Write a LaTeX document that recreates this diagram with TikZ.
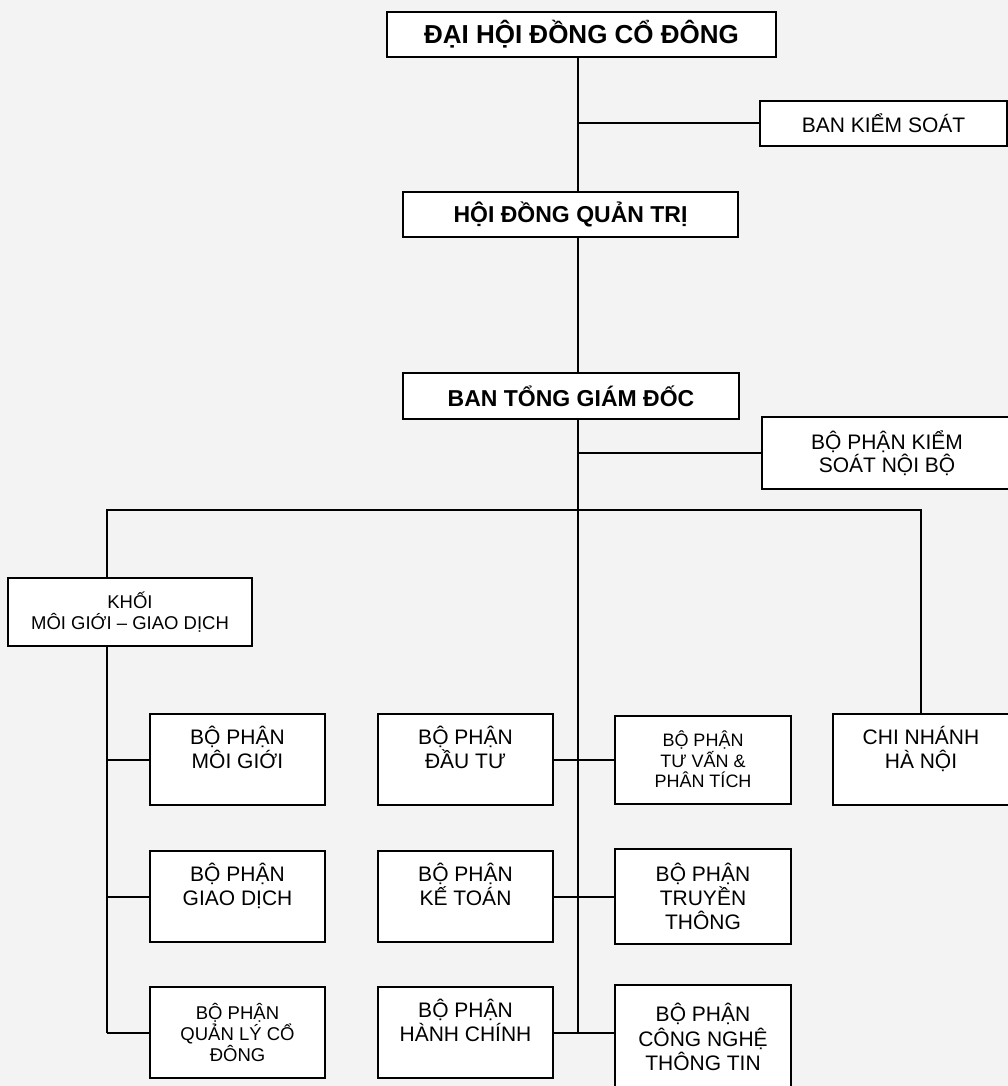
\documentclass[tikz,border=0pt]{standalone}
\usepackage{fontspec}
\setmainfont{Liberation Sans}
\usetikzlibrary{positioning}

\definecolor{bggray}{HTML}{F3F3F3}

\begin{document}
\begin{tikzpicture}[
    x=1pt, y=-1pt,
    node distance=46pt,
    boss/.style={rectangle, draw, fill=white, line width=2pt, inner sep=0pt, outer sep=0pt, align=center, minimum height=45pt, font=\bfseries\fontsize{23}{27}\selectfont},
    side/.style={rectangle, draw, fill=white, line width=2pt, inner sep=0pt, outer sep=0pt, align=center, font=\fontsize{21}{23}\selectfont},
    dept/.style={rectangle, draw, fill=white, line width=2pt, inner sep=0pt, outer sep=0pt, align=center, minimum width=175pt, minimum height=91pt, font=\fontsize{21}{24}\selectfont},
    small/.style={font=\fontsize{18.5}{21}\selectfont},
    link/.style={line width=2pt}
]

% ---------- background ----------
\fill[bggray] (0,0) rectangle (1008,1086);
\useasboundingbox (0,0) rectangle (1008,1086);

% ---------- nodes ----------
% top levels
\node (dhdcd) [boss, minimum width=389pt, font=\bfseries\fontsize{26}{30}\selectfont] at (581.5,34.5) {ĐẠI HỘI ĐỒNG CỔ ĐÔNG};
\node (bks) [side, minimum width=247pt, minimum height=45pt] at (883.5,123.5) {BAN KIỂM SOÁT};
\node (hdqt) [boss, minimum width=335pt] at (570.5,214.5) {HỘI ĐỒNG QUẢN TRỊ};
\node (btgd) [boss, minimum width=336pt, minimum height=46pt] at (571,396) {BAN TỔNG GIÁM ĐỐC};
\node (bpksnb) [side, minimum width=250pt, minimum height=72pt] at (887,453) {BỘ PHẬN KIỂM\\SOÁT NỘI BỘ};

% left column
\node (khoi) [side, small, minimum width=244pt, minimum height=68pt] at (130,612) {KHỐI\\MÔI GIỚI – GIAO DỊCH};
\node (moigioi) [dept] at (237.5,759.5) {BỘ PHẬN\\MÔI GIỚI\\~};
\node (giaodich) [dept, below=of moigioi] {BỘ PHẬN\\GIAO DỊCH\\~};
\node (quanly) [dept, small, below=45pt of giaodich] {BỘ PHẬN\\QUẢN LÝ CỔ\\ĐÔNG};

% middle column
\node (dautu) [dept, right=53pt of moigioi] {BỘ PHẬN\\ĐẦU TƯ\\~};
\node (ketoan) [dept, below=of dautu] {BỘ PHẬN\\KẾ TOÁN\\~};
\node (hanhchinh) [dept, below=45pt of ketoan] {BỘ PHẬN\\HÀNH CHÍNH\\~};

% right column
\node (tuvan) [dept, small, minimum width=176pt, minimum height=88pt, font=\fontsize{18}{20.5}\selectfont, right=62pt of dautu] {BỘ PHẬN\\TƯ VẤN \&\\PHÂN TÍCH};
\node (truyenthong) [dept, minimum width=176pt, minimum height=95pt, right=62pt of ketoan] {BỘ PHẬN\\TRUYỀN\\THÔNG};
\node (cntt) [dept, minimum width=176pt, minimum height=104pt, font=\fontsize{21}{24.5}\selectfont, below=41pt of truyenthong] {BỘ PHẬN\\CÔNG NGHỆ\\THÔNG TIN};
\node (chinhanh) [dept, minimum width=176pt, right=42pt of tuvan] {CHI NHÁNH\\HÀ NỘI\\~};

% ---------- connectors ----------
\coordinate (trunk) at (578,0);
\coordinate (lspine) at (107,510);

\draw [link] (dhdcd.south -| trunk) -- (hdqt.north -| trunk);
\draw [link] (trunk |- bks) -- (bks.west);
\draw [link] (hdqt.south -| trunk) -- (btgd.north -| trunk);
\draw [link] (btgd.south -| trunk) -- (trunk |- hanhchinh);
\draw [link] (trunk |- bpksnb) -- (bpksnb.west);

% bus to the three branches
\draw [link] (lspine |- khoi.north) -- (lspine) -- (lspine -| chinhanh.north) -- (chinhanh.north);

% left spine
\draw [link] (lspine |- khoi.south) -- (lspine |- quanly);
\draw [link] (lspine |- moigioi) -- (moigioi.west);
\draw [link] (lspine |- giaodich) -- (giaodich.west);
\draw [link] (lspine |- quanly) -- (quanly.west);

% middle ties
\draw [link] (dautu.east) -- (tuvan.west |- dautu.east);
\draw [link] (ketoan.east) -- (truyenthong.west |- ketoan.east);
\draw [link] (hanhchinh.east) -- (cntt.west |- hanhchinh.east);

\end{tikzpicture}
\end{document}
